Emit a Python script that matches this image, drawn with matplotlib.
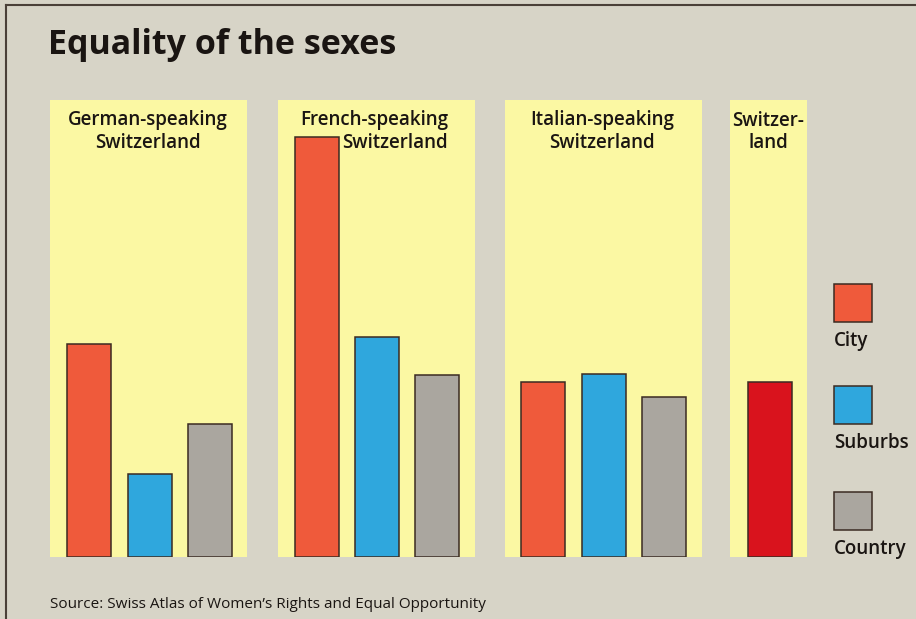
import matplotlib.pyplot as plt
from matplotlib.patches import Rectangle

# Index values per region, read as bar heights (common scale)
regions = ['German-speaking\nSwitzerland', 'French-speaking\nSwitzerland',
           'Italian-speaking\nSwitzerland', 'Switzer-\nland']
city = [213, 420, 175]
suburbs = [83, 220, 183]
country = [133, 182, 160]
switzerland = [175]
legend_labels = ['City', 'Suburbs', 'Country']

W, H = 916, 619
BASE = 557  # pixel row of the bar baseline

bg = '#d7d4c7'
yellow = '#fbf8a3'
c_city = '#ef5a3b'
c_sub = '#2fa7dd'
c_cty = '#aaa69f'
c_swiss = '#d9131d'
edge = '#3b2b22'

fig = plt.figure(figsize=(W / 100, H / 100), dpi=100)
fig.patch.set_facecolor(bg)

# axis measured in pixels above the baseline
ax = fig.add_axes([0, (H - BASE) / H, 1, BASE / H])
ax.set_xlim(0, W)
ax.set_ylim(0, BASE)
ax.axis('off')

def px(x, y):
    return x / W, 1 - y / H

# yellow panels behind each group
panels = [(50, 247), (278, 475), (505, 702), (730, 807)]
for x0, x1 in panels:
    ax.add_patch(Rectangle((x0, 0), x1 - x0, BASE - 100, facecolor=yellow,
                           edgecolor='none', zorder=0))

bw = 44
groups = [[89, 150, 210], [317, 377, 437], [543, 604, 664]]
for i, (xc, xs, xk) in enumerate(groups):
    ax.bar(xc, city[i], width=bw, color=c_city, edgecolor=edge, linewidth=1.1, zorder=2)
    ax.bar(xs, suburbs[i], width=bw, color=c_sub, edgecolor=edge, linewidth=1.1, zorder=2)
    ax.bar(xk, country[i], width=bw, color=c_cty, edgecolor=edge, linewidth=1.1, zorder=2)
ax.bar(770, switzerland[0], width=bw, color=c_swiss, edgecolor=edge, linewidth=1.1, zorder=2)

font = 'Open Sans'
txt = '#1a1512'

fig.text(*px(48, 45), 'Equality of the sexes', fontsize=24.5, fontweight='bold',
         family=font, color=txt, va='center', ha='left')

lab_kw = dict(fontsize=13.5, family=font, fontweight='semibold', color=txt,
              va='center', linespacing=1.2)
fig.text(*px(148, 132), regions[0], ha='center', multialignment='center', **lab_kw)
fig.text(*px(448, 132), regions[1], ha='right', multialignment='right', **lab_kw)
fig.text(*px(602, 132), regions[2], ha='center', multialignment='center', **lab_kw)
fig.text(*px(768, 132), regions[3], ha='center', multialignment='center', **lab_kw)

# legend: swatch with the label underneath
leg_colors = [c_city, c_sub, c_cty]
leg_tops = [284, 386, 492]
for lab, col, top in zip(legend_labels, leg_colors, leg_tops):
    fig.patches.append(Rectangle(px(834, top + 38), 38 / W, 38 / H,
                                 transform=fig.transFigure, facecolor=col,
                                 edgecolor=edge, linewidth=1.1))
    fig.text(*px(834, top + 57), lab, ha='left', **lab_kw)

fig.text(*px(50, 605), 'Source: Swiss Atlas of Women\u2019s Rights and Equal Opportunity',
         fontsize=11, family=font, color=txt, va='center', ha='left')

# thin frame along the top and left edges
fig.add_artist(plt.Line2D([6 / W, 1], [1 - 5 / H, 1 - 5 / H], color='#4a4038',
                          linewidth=1.5, transform=fig.transFigure))
fig.add_artist(plt.Line2D([6 / W, 6 / W], [0, 1 - 5 / H], color='#4a4038',
                          linewidth=1.5, transform=fig.transFigure))

fig.savefig('out.png', dpi=100, facecolor=bg)
